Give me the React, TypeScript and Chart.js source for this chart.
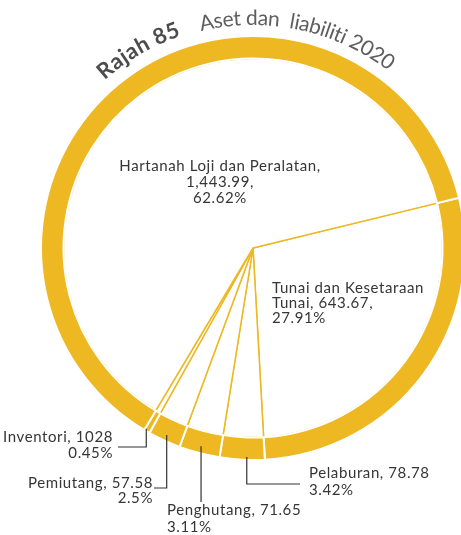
import React, { useEffect, useRef } from 'react';
import { Chart, registerables } from 'chart.js';

Chart.register(...registerables);

// ---- Data ----
const categories = [
  'Tunai dan Kesetaraan Tunai',
  'Pelaburan',
  'Penghutang',
  'Pemiutang',
  'Inventori',
  'Hartanah Loji dan Peralatan',
];
const values = [643.67, 78.78, 71.65, 57.58, 10.28, 1443.99];
const valueLabels = ['643.67', '78.78', '71.65', '57.58', '1028', '1,443.99'];
const percentLabels = ['27.91%', '3.42%', '3.11%', '2.5%', '0.45%', '62.62%'];
const titleBold = 'Rajah 85';
const titleRest = 'Aset dan  liabiliti 2020';

// ---- Styles / layout ----
const YELLOW = '#EDB821';
const TEXT = '#363636';
const FONT = 'Lato, "Open Sans", sans-serif';

type Leader = { t: number; r: number; elbowY: number; endX?: number };
type LabelLayout = {
  lines: (i: number) => string[];
  align: CanvasTextAlign;
  x: number;
  y: number;
  lh: number;
  leader?: Leader;
};

const twoLine = (i: number) => [`${categories[i]}, ${valueLabels[i]}`, percentLabels[i]];

const layout: LabelLayout[] = [
  {
    lines: (i) => {
      const w = categories[i].split(' ');
      return [w.slice(0, -1).join(' '), `${w[w.length - 1]}, ${valueLabels[i]},`, percentLabels[i]];
    },
    align: 'left', x: 272, y: 293, lh: 15,
  },
  { lines: twoLine, align: 'left', x: 309, y: 478, lh: 17, leader: { t: 0.4, r: 209, elbowY: 484, endX: 300 } },
  { lines: twoLine, align: 'left', x: 167, y: 515, lh: 17, leader: { t: 0.5, r: 205, elbowY: 502 } },
  { lines: twoLine, align: 'right', x: 153, y: 488, lh: 15, leader: { t: 0.5, r: 206, elbowY: 488, endX: 154 } },
  { lines: twoLine, align: 'right', x: 113, y: 442, lh: 16, leader: { t: 0.8, r: 210, elbowY: 447, endX: 118 } },
  {
    lines: (i) => [`${categories[i]},`, `${valueLabels[i]},`, percentLabels[i]],
    align: 'center', x: 220, y: 171, lh: 15.8,
  },
];

function drawArcText(
  ctx: CanvasRenderingContext2D,
  cx: number,
  cy: number,
  r: number,
  startDeg: number,
  text: string,
  font: string,
  color: string,
  targetWidth: number
) {
  ctx.save();
  ctx.font = font;
  ctx.fillStyle = color;
  ctx.textAlign = 'center';
  ctx.textBaseline = 'alphabetic';
  const chars = Array.from(text);
  const widths = chars.map((c) => ctx.measureText(c).width);
  const natural = widths.reduce((a, b) => a + b, 0);
  const extra = (targetWidth - natural) / Math.max(chars.length - 1, 1);
  let theta = (startDeg * Math.PI) / 180;
  chars.forEach((c, i) => {
    const half = widths[i] / 2;
    theta += half / r;
    ctx.save();
    ctx.translate(cx + r * Math.sin(theta), cy - r * Math.cos(theta));
    ctx.rotate(theta);
    ctx.fillText(c, 0, 0);
    ctx.restore();
    theta += (half + extra) / r;
  });
  ctx.restore();
}

const labelPlugin = {
  id: 'labelPlugin',
  afterDraw(chart: any) {
    const ctx: CanvasRenderingContext2D = chart.ctx;
    const arcs = chart.getDatasetMeta(0).data;
    if (!arcs.length) return;
    const cx = arcs[0].x;
    const cy = arcs[0].y;

    // curved title
    drawArcText(ctx, cx, cy, 224, -41.5, titleBold, `bold 22px ${FONT}`, '#4c4c4c', 89);
    drawArcText(ctx, cx, cy, 223, -13.5, titleRest, `21px ${FONT}`, '#5e5e5e', 198);

    // labels
    ctx.save();
    ctx.font = `15px ${FONT}`;
    (ctx as any).letterSpacing = '0.6px';
    ctx.fillStyle = TEXT;
    ctx.textBaseline = 'alphabetic';
    layout.forEach((l, i) => {
      ctx.textAlign = l.align;
      l.lines(i).forEach((line, k) => ctx.fillText(line, l.x, l.y + k * l.lh));
      if (l.leader) {
        const a = arcs[i];
        const ang = a.startAngle + (a.endAngle - a.startAngle) * l.leader.t;
        const sx = a.x + Math.cos(ang) * l.leader.r;
        const sy = a.y + Math.sin(ang) * l.leader.r;
        ctx.beginPath();
        ctx.strokeStyle = '#333';
        ctx.lineWidth = 1.2;
        ctx.moveTo(sx, sy);
        ctx.lineTo(sx, l.leader.elbowY);
        if (l.leader.endX !== undefined) ctx.lineTo(l.leader.endX, l.leader.elbowY);
        ctx.stroke();
      }
    });
    ctx.restore();
  },
};

export default function App() {
  const ref = useRef<HTMLCanvasElement | null>(null);

  useEffect(() => {
    if (!ref.current) return;
    const chart = new Chart(ref.current, {
      type: 'pie',
      data: {
        labels: categories,
        datasets: [
          { data: values, backgroundColor: YELLOW, borderColor: '#ffffff', borderWidth: 2, weight: 22.5 } as any,
          { data: values, backgroundColor: '#ffffff', borderColor: YELLOW, borderWidth: 1.5, weight: 189.5 } as any,
        ],
      },
      options: {
        responsive: false,
        animation: false,
        events: [],
        rotation: 76.3,
        layout: { padding: { top: 35, bottom: 74, left: 0, right: 0 } },
        plugins: { legend: { display: false }, tooltip: { enabled: false } },
      },
      plugins: [labelPlugin],
    });
    return () => chart.destroy();
  }, []);

  return (
    <div
      style={{
        position: 'fixed',
        left: 0,
        top: 0,
        width: 461,
        height: 535,
        overflow: 'hidden',
        background: '#ffffff',
      }}
    >
      <canvas ref={ref} width={506} height={535} style={{ display: 'block', width: 506, height: 535 }} />
    </div>
  );
}
